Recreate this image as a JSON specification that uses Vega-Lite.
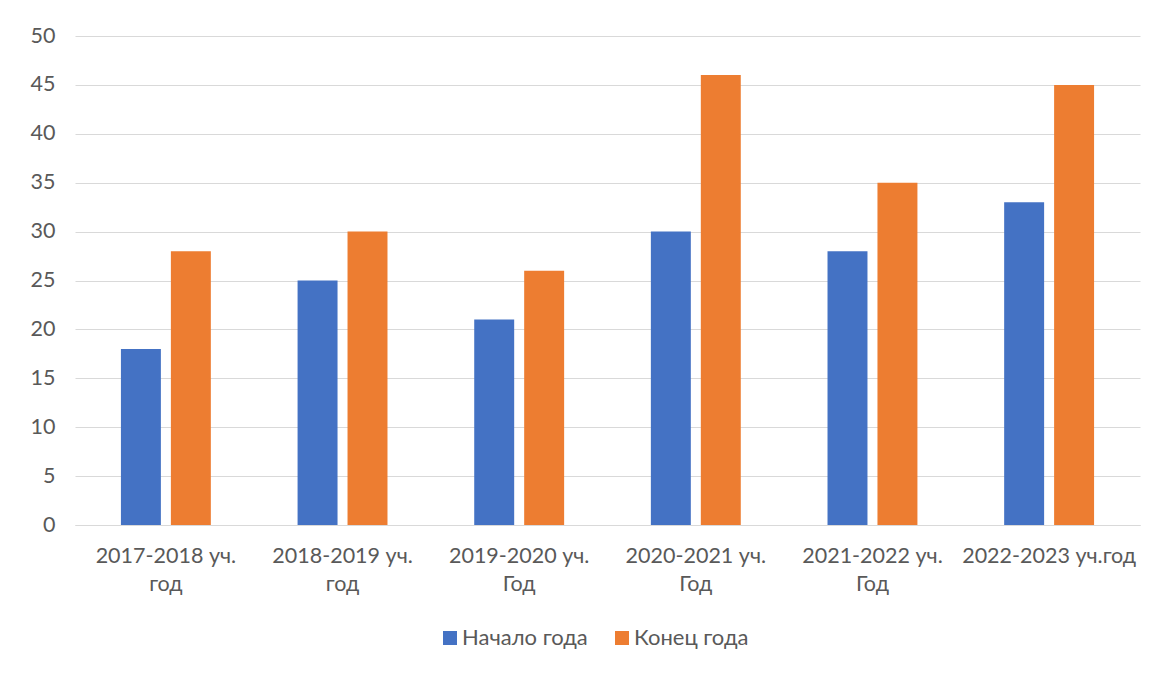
{
  "$schema": "https://vega.github.io/schema/vega-lite/v6.json",
  "autosize": "none",
  "width": 1065,
  "height": 489,
  "padding": {"left": 75, "top": 36, "right": 14, "bottom": 149},
  "background": "white",
  "config": {
    "view": {"stroke": null},
    "font": "Lato",
    "axis": {"labelFont": "Lato", "labelColor": "#595959", "labelFontSize": 21.5, "gridColor": "#d9d9d9", "domainColor": "#d9d9d9", "ticks": false},
    "legend": {"labelFont": "Lato", "labelColor": "#595959", "labelFontSize": 22}
  },
  "data": {
    "values": [
      {"year": "2017-2018 уч. год", "series": "Начало года", "value": 18},
      {"year": "2017-2018 уч. год", "series": "Конец года", "value": 28},
      {"year": "2018-2019 уч. год", "series": "Начало года", "value": 25},
      {"year": "2018-2019 уч. год", "series": "Конец года", "value": 30},
      {"year": "2019-2020 уч. Год", "series": "Начало года", "value": 21},
      {"year": "2019-2020 уч. Год", "series": "Конец года", "value": 26},
      {"year": "2020-2021 уч. Год", "series": "Начало года", "value": 30},
      {"year": "2020-2021 уч. Год", "series": "Конец года", "value": 46},
      {"year": "2021-2022 уч. Год", "series": "Начало года", "value": 28},
      {"year": "2021-2022 уч. Год", "series": "Конец года", "value": 35},
      {"year": "2022-2023 уч.год", "series": "Начало года", "value": 33},
      {"year": "2022-2023 уч.год", "series": "Конец года", "value": 45}
    ]
  },
  "mark": {"type": "bar"},
  "encoding": {
    "x": {
      "field": "year", "type": "nominal", "sort": null,
      "scale": {"paddingInner": 0.491, "paddingOuter": 0.26},
      "axis": {"title": null, "labelAngle": 0, "labelPadding": 20, "labelLineHeight": 28, "grid": false, "domain": true,
        "labelExpr": "indexof(datum.label, ' уч. ') > 0 ? [substring(datum.label, 0, 13), substring(datum.label, 14)] : datum.label"}
    },
    "xOffset": {"field": "series", "type": "nominal", "sort": ["Начало года", "Конец года"], "scale": {"paddingInner": 0.2, "paddingOuter": 0}},
    "y": {
      "field": "value", "type": "quantitative",
      "scale": {"domain": [0, 50], "nice": false},
      "axis": {"title": null, "values": [0,5,10,15,20,25,30,35,40,45,50], "domain": false, "labelPadding": 20, "grid": true}
    },
    "color": {
      "field": "series", "type": "nominal",
      "scale": {"domain": ["Начало года", "Конец года"], "range": ["#4472C4", "#ED7D31"]},
      "legend": {"title": null, "orient": "none", "legendX": 364, "legendY": 591, "direction": "horizontal", "symbolType": "square", "symbolSize": 196, "labelOffset": 1, "columnPadding": 23}
    }
  }
}
